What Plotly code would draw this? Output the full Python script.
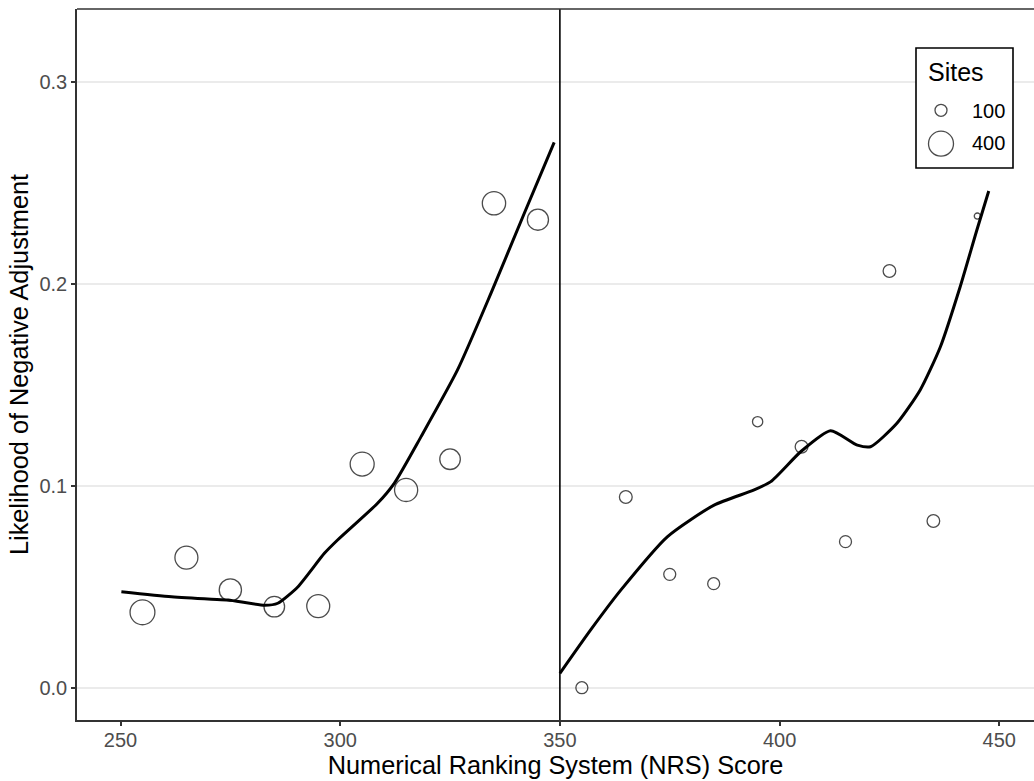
import numpy as np
import plotly.graph_objects as go

# ---- data ----
nrs_left = [255, 265, 275, 285, 295, 305, 315, 325, 335, 345]
lik_left = [0.0373, 0.0644, 0.0484, 0.0401, 0.0404, 0.1107, 0.0979, 0.1131, 0.2398, 0.2317]
sites_left = [395, 340, 320, 275, 340, 370, 345, 275, 350, 290]

nrs_right = [355, 365, 375, 385, 395, 405, 415, 425, 435, 445]
lik_right = [0.0, 0.0944, 0.0561, 0.0515, 0.1317, 0.1193, 0.0723, 0.2063, 0.0825, 0.2335]
sites_right = [100, 112, 100, 100, 75, 112, 100, 110, 110, 30]

fit_left_x = [250.2, 261.6, 270.7, 274.5, 282.8, 285.8, 290.4, 296.4, 299.4, 308.5,
              312.3, 318.4, 326.7, 334.3, 341.9, 348.7]
fit_left_y = [0.0475, 0.0450, 0.0438, 0.0434, 0.0408, 0.0418, 0.0500, 0.0665, 0.0731, 0.0913,
              0.1012, 0.1243, 0.1573, 0.1952, 0.2349, 0.2700]

fit_right_x = [350.0, 357.0, 363.9, 374.5, 385.1, 394.2, 398.0, 404.8, 411.6, 417.7,
               420.7, 426.7, 432.0, 436.6, 441.1, 444.9, 447.6]
fit_right_y = [0.0071, 0.0286, 0.0484, 0.0748, 0.0904, 0.0979, 0.1020, 0.1168, 0.1272, 0.1201,
               0.1193, 0.1309, 0.1474, 0.1688, 0.1985, 0.2266, 0.2459]

cutoff = 350
legend_breaks = [100, 400]
x_ticks = [250, 300, 350, 400, 450]
y_ticks = [0.0, 0.1, 0.2, 0.3]
y_tick_labels = ["0.0", "0.1", "0.2", "0.3"]


def diam(s):
    return 1.3 * np.sqrt(np.asarray(s, dtype=float)) - 1


FONT = "Liberation Sans, Arial, sans-serif"
W, H = 1034, 781
L, R, T, B = 77, 0, 9, 61
XR = [240.1, 457.9]
YR = [-0.016, 0.336]

fig = go.Figure()

for xs, ys, ss in [(nrs_left, lik_left, sites_left), (nrs_right, lik_right, sites_right)]:
    fig.add_trace(go.Scatter(
        x=xs, y=ys, mode="markers",
        marker=dict(size=diam(ss), sizemode="diameter", color="rgba(0,0,0,0)",
                    line=dict(color="black", width=1.3)),
        showlegend=False, hoverinfo="skip"))

for xs, ys in [(fit_left_x, fit_left_y), (fit_right_x, fit_right_y)]:
    fig.add_trace(go.Scatter(
        x=xs, y=ys, mode="lines", line=dict(color="black", width=3, shape="spline", smoothing=0.6),
        showlegend=False, hoverinfo="skip"))

# vertical cutoff line
fig.add_shape(type="line", x0=cutoff, x1=cutoff, xref="x", y0=0, y1=1, yref="paper",
              line=dict(color="black", width=1.6), layer="above")
# top border of panel
fig.add_shape(type="line", x0=0, x1=1, xref="paper", y0=1, y1=1, yref="paper",
              line=dict(color="#333333", width=1.6))

# ---- manual legend (box + size keys) ----
pw, ph = W - L - R, H - T - B
def px(xp):
    return (xp - L) / pw
def py(yp):
    return (H - B - yp) / ph
def dx(xp):
    return XR[0] + px(xp) * (XR[1] - XR[0])
def dy(yp):
    return YR[0] + py(yp) * (YR[1] - YR[0])

bx0, bx1, by0, by1 = 916, 1013, 48, 168
# white fill, between gridlines and traces of the main panel
fig.add_shape(type="rect", xref="x", yref="y",
              x0=dx(bx0), x1=dx(bx1), y0=dy(by1), y1=dy(by0),
              line=dict(width=0), fillcolor="white", layer="between")
# border on top
fig.add_shape(type="rect", xref="paper", yref="paper",
              x0=px(bx0), x1=px(bx1), y0=py(by1), y1=py(by0),
              line=dict(color="black", width=1.6), fillcolor="rgba(0,0,0,0)", layer="above")

key_y = [py(111), py(143)]
fig.add_trace(go.Scatter(
    x=[0.5, 0.5], y=[1, 0], xaxis="x2", yaxis="y2", mode="markers",
    marker=dict(size=diam(legend_breaks), sizemode="diameter", color="rgba(0,0,0,0)",
                line=dict(color="black", width=1.3)),
    showlegend=False, hoverinfo="skip", cliponaxis=False))

annotations = [dict(text="Sites", x=px(926), y=py(72), xref="paper", yref="paper",
                    xanchor="left", yanchor="middle", showarrow=False,
                    font=dict(family=FONT, size=25, color="black"))]
for b, yy in zip(legend_breaks, key_y):
    annotations.append(dict(text=str(b), x=px(970), y=yy, xref="paper", yref="paper",
                            xanchor="left", yanchor="middle", showarrow=False,
                            font=dict(family=FONT, size=20, color="black")))

fig.update_layout(
    width=W, height=H,
    margin=dict(l=L, r=R, t=T, b=B),
    paper_bgcolor="white", plot_bgcolor="white",
    font=dict(family=FONT, color="black"),
    annotations=annotations,
    xaxis=dict(range=XR, tickvals=x_ticks, showgrid=False, zeroline=False,
               showline=True, linecolor="#333333", linewidth=1.6,
               ticks="outside", ticklen=4, tickwidth=1.6, tickcolor="#333333",
               ticklabelstandoff=-3,
               tickfont=dict(family=FONT, size=20, color="#4D4D4D"),
               title=dict(text="Numerical Ranking System (NRS) Score",
                          font=dict(family=FONT, size=25.3, color="black"), standoff=0)),
    yaxis=dict(range=YR, tickvals=y_ticks, ticktext=y_tick_labels,
               showgrid=True, gridcolor="#EBEBEB", gridwidth=1.6, zeroline=False,
               showline=True, linecolor="#333333", linewidth=1.6,
               ticks="outside", ticklen=4, tickwidth=1.6, tickcolor="#333333",
               tickfont=dict(family=FONT, size=20, color="#4D4D4D"),
               title=dict(text="Likelihood of Negative Adjustment",
                          font=dict(family=FONT, size=25.3, color="black"), standoff=4)),
    xaxis2=dict(domain=[px(930), px(952)], range=[0, 1], visible=False, fixedrange=True),
    yaxis2=dict(domain=[key_y[1] - 0.001, key_y[0] + 0.001], range=[0, 1], visible=False, fixedrange=True),
)

fig.write_html("out.html")
